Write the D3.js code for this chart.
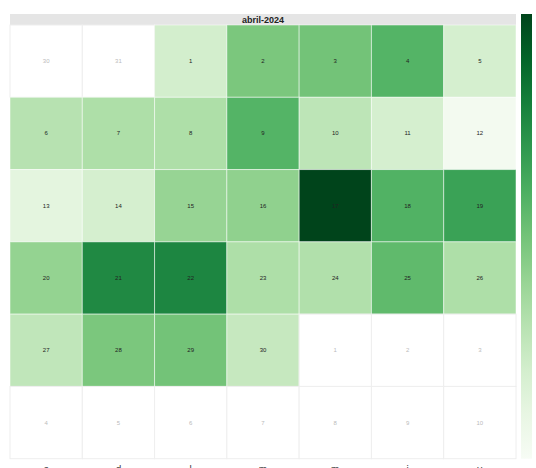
<!DOCTYPE html>
<html>
<head>
<meta charset="utf-8">
<script src="https://cdn.jsdelivr.net/npm/d3@7"></script>
<style>
  body { margin: 0; background: #fff; }
  svg { display: block; font-family: "Liberation Sans", Arial, sans-serif; }
</style>
</head>
<body>
<div id="chart"></div>
<script>
// April 2024, week starting on Saturday
const monthTitle = 'abril-2024';
const weekdayLabels = ['s', 'd', 'l', 'm', 'm', 'j', 'v'];
const days = d3.range(1, 31);
const dayValues = [20, 48, 50, 58, 19, 30, 33, 33, 58, 28,
                   19, 3, 12, 19, 40, 42, 100, 59, 66, 41,
                   76, 77, 33, 32, 55, 33, 27, 48, 50, 25];
const leadingDays = [30, 31];           // from March
const trailingDays = [1, 2, 3, 4, 5, 6, 7, 8, 9, 10]; // from May

const width = 536, height = 468;
const margin = {left: 10, top: 25, right: 20};
const calRight = 516;
const headerTop = 14;

const svg = d3.select('#chart').append('svg')
  .attr('width', width)
  .attr('height', height);

const x = d3.scaleBand().domain(d3.range(7)).range([margin.left, calRight]);
const cell = x.bandwidth();
const y = d3.scaleBand().domain(d3.range(6)).range([margin.top, margin.top + cell * 6]);

const color = d3.scaleSequential(d3.interpolateGreens)
  .domain([0, d3.max(dayValues)]);

// build the grid cells
const cells = [];
leadingDays.forEach((d) => cells.push({label: d, inMonth: false}));
days.forEach((d, i) => cells.push({label: d, inMonth: true, value: dayValues[i]}));
trailingDays.forEach((d) => cells.push({label: d, inMonth: false}));
cells.forEach((c, i) => { c.col = i % 7; c.row = Math.floor(i / 7); });

// header band
svg.append('rect')
  .attr('x', margin.left)
  .attr('y', headerTop)
  .attr('width', calRight - margin.left)
  .attr('height', margin.top - headerTop)
  .attr('fill', '#e5e5e5');

svg.append('text')
  .attr('x', (margin.left + calRight) / 2)
  .attr('y', 23)
  .attr('text-anchor', 'middle')
  .style('font-size', '9px')
  .style('font-weight', 'bold')
  .attr('fill', '#222')
  .text(monthTitle);

const g = svg.append('g');

g.selectAll('.day')
  .data(cells)
  .enter().append('rect')
  .attr('class', 'day')
  .attr('x', (d) => x(d.col))
  .attr('y', (d) => y(d.row))
  .attr('width', cell)
  .attr('height', cell)
  .attr('fill', (d) => d.inMonth ? color(d.value) : '#fff')
  .attr('stroke', (d) => d.inMonth ? 'rgba(255,255,255,0.5)' : '#eeeeee')
  .attr('stroke-width', 1);

g.selectAll('.day-label')
  .data(cells)
  .enter().append('text')
  .attr('class', 'day-label')
  .attr('x', (d) => x(d.col) + cell / 2)
  .attr('y', (d) => y(d.row) + cell / 2 + 2)
  .attr('text-anchor', 'middle')
  .style('font-size', '6px')
  .attr('fill', (d) => d.inMonth ? '#222' : '#bbb')
  .text((d) => d.label);

// weekday labels, mostly below the window edge (as in the original)
svg.selectAll('.wd')
  .data(weekdayLabels)
  .enter().append('text')
  .attr('class', 'wd')
  .attr('x', (d, i) => x(i) + cell / 2)
  .attr('y', 473)
  .attr('text-anchor', 'middle')
  .style('font-size', '10px')
  .attr('fill', '#444')
  .text((d) => d);

// colour bar
const defs = svg.append('defs');
const grad = defs.append('linearGradient')
  .attr('id', 'cbar')
  .attr('x1', 0).attr('y1', 1).attr('x2', 0).attr('y2', 0);
d3.range(0, 1.0001, 0.1).forEach((t) => {
  grad.append('stop')
    .attr('offset', t)
    .attr('stop-color', d3.interpolateGreens(t));
});

svg.append('rect')
  .attr('x', 521)
  .attr('y', headerTop)
  .attr('width', 11)
  .attr('height', y(5) + cell - headerTop)
  .attr('fill', 'url(#cbar)');
</script>
</body>
</html>
